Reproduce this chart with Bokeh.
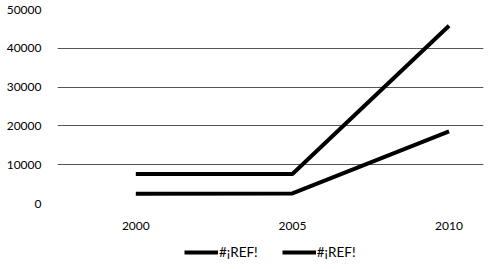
from bokeh.plotting import figure
from bokeh.layouts import column
from bokeh.models import Legend, LegendItem, FixedTicker, Range1d
from bokeh.embed import file_html
from bokeh.resources import INLINE

years = [2000, 2005, 2010]
series_a = [7600, 7600, 45800]
series_b = [2500, 2600, 18600]
labels = ["#¡REF!", "#¡REF!"]
y_ticks = [0, 10000, 20000, 30000, 40000, 50000]

p = figure(width=488, height=232, output_backend="svg", toolbar_location=None,
           x_range=Range1d(1997.5, 2011.1), y_range=Range1d(0, 50000),
           min_border_left=57, min_border_right=5, min_border_top=9, min_border_bottom=28)
p.outline_line_color = None
p.background_fill_color = "white"
p.border_fill_color = "white"

ra = p.line(years, series_a, line_color="black", line_width=4)
rb = p.line(years, series_b, line_color="black", line_width=4)

p.xaxis.ticker = FixedTicker(ticks=years)
p.yaxis.ticker = FixedTicker(ticks=y_ticks)
for ax in (p.xaxis[0], p.yaxis[0]):
    ax.axis_line_color = None
    ax.major_tick_line_color = None
    ax.minor_tick_line_color = None
    ax.major_label_text_font = "Lato"
    ax.major_label_text_font_size = "12px"
    ax.major_label_text_color = "black"
p.yaxis.major_label_standoff = 10
p.xaxis.major_label_standoff = 12
p.xgrid.grid_line_color = None
p.ygrid.grid_line_color = "#555555"
p.ygrid.grid_line_width = 1

# legend strip
q = figure(width=488, height=37, output_backend="svg", toolbar_location=None,
           x_range=Range1d(0, 1), y_range=Range1d(0, 1),
           min_border=0)
q.axis.visible = False
q.grid.visible = False
q.outline_line_color = None
q.background_fill_color = "white"
la = q.line(years, series_a, line_color="black", line_width=4)
lb = q.line(years, series_b, line_color="black", line_width=4)
legend = Legend(items=[LegendItem(label=labels[0], renderers=[la]),
                       LegendItem(label=labels[1], renderers=[lb])],
                orientation="horizontal", location=(127, 7),
                label_text_font="Lato", label_text_font_size="13.5px",
                label_text_color="black",
                glyph_width=34, label_standoff=1, spacing=24,
                border_line_color=None, background_fill_alpha=0,
                margin=0, padding=4)
q.add_layout(legend, "center")

open("out.html", "w").write(file_html(column(p, q, spacing=0), INLINE))
